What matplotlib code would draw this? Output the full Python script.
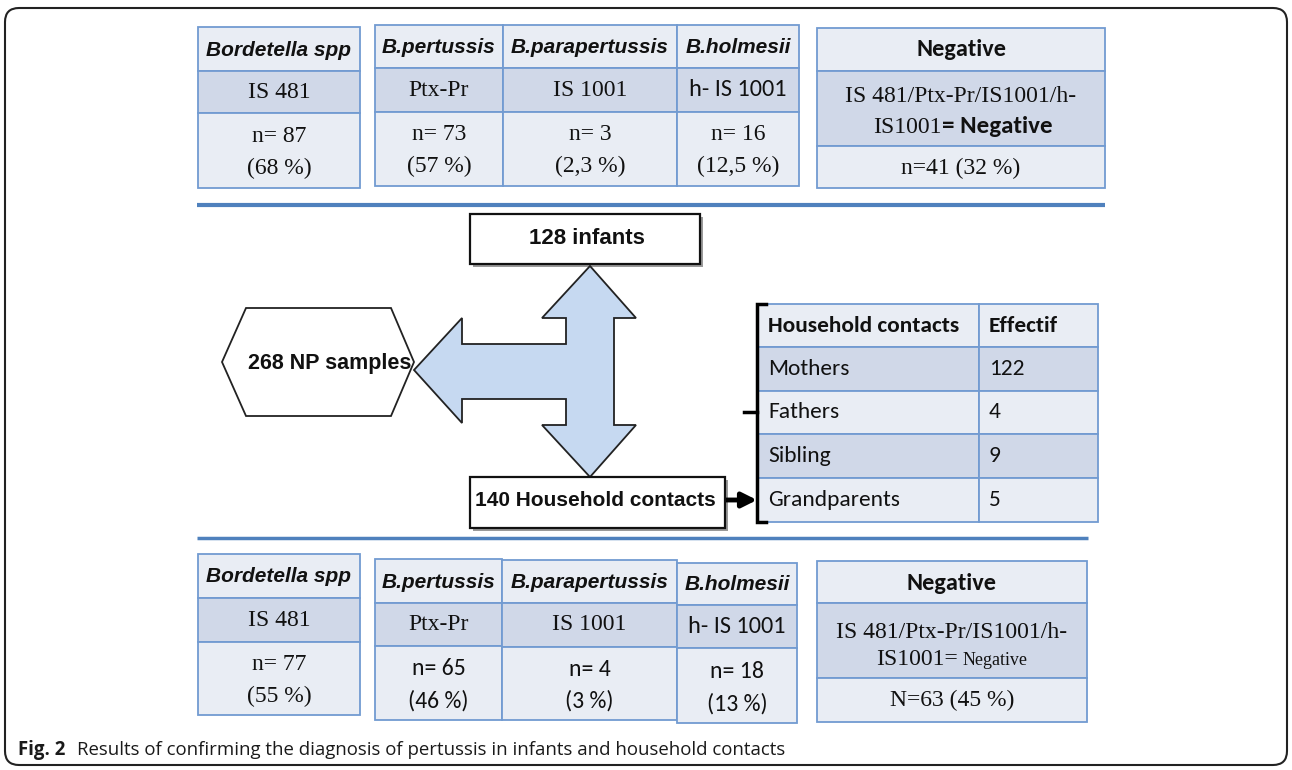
import matplotlib
matplotlib.use("Agg")
import matplotlib.pyplot as plt
from matplotlib.patches import Rectangle, Polygon, FancyBboxPatch
from matplotlib import font_manager


def pick(*names):
    # first installed family from the list
    for n in names:
        try:
            font_manager.findfont(n, fallback_to_default=False)
            return n
        except ValueError:
            continue
    return "DejaVu Sans"


NARROW = pick("Liberation Sans Narrow", "Liberation Sans")
ARIAL = pick("Liberation Sans", "DejaVu Sans")
SERIF = pick("Liberation Serif", "DejaVu Serif")
CALIBRI = pick("Carlito", "Lato", "Open Sans")
CAPTION = pick("Open Sans", "Noto Sans")

# ---- data ----
N_SAMPLES = 268
N_INFANTS = 128
N_CONTACTS = 140
species = ["Bordetella spp", "B.pertussis", "B.parapertussis", "B.holmesii"]
targets = ["IS 481", "Ptx-Pr", "IS 1001", "h- IS 1001"]
infant_n = [87, 73, 3, 16]
infant_pct = ["68", "57", "2,3", "12,5"]
contact_n = [77, 65, 4, 18]
contact_pct = ["55", "46", "3", "13"]
neg_targets = "IS 481/Ptx-Pr/IS1001/h-"
infant_neg = (41, "32")
contact_neg = (63, "45")
hh_groups = ["Mothers", "Fathers", "Sibling", "Grandparents"]
hh_effectif = [122, 4, 9, 5]

# ---- style ----
LIGHT = "#e9edf4"
SHADE = "#d0d8e8"
EDGE = "#729bd1"
INK = "#111111"
ARROW_FILL = "#c6d9f1"
RULE = "#4f81bd"
HEAD_SIZE = 15 if NARROW == "Liberation Sans" else 17

fig = plt.figure(figsize=(12.92, 7.70), dpi=100)
ax = fig.add_axes([0, 0, 1, 1])
ax.set_xlim(0, 1292)
ax.set_ylim(770, 0)
ax.axis("off")


def cell(x0, y0, x1, y1, fc):
    ax.add_patch(Rectangle((x0, y0), x1 - x0, y1 - y0, facecolor=fc,
                           edgecolor=EDGE, lw=1.3))


def txt(x, y, s, family, size, **kw):
    kw.setdefault("ha", "center")
    kw.setdefault("va", "center")
    ax.text(x, y, s, family=family, fontsize=size, color=INK, **kw)


# outer frame
ax.add_patch(FancyBboxPatch((5, 8), 1282, 757,
                            boxstyle="round,pad=0,rounding_size=14",
                            facecolor="none", edgecolor="#222222", lw=1.5))

# ---- species tables (top = infants, bottom = household contacts) ----
TOP_COLS = [(198, 360), (375, 503), (503, 677), (677, 799)]
TOP_ROWS = [(27, 71, 113, 188), (25, 68, 112, 186),
            (25, 68, 112, 186), (25, 68, 112, 186)]
BOT_COLS = [(198, 360), (375, 502), (502, 677), (677, 797)]
BOT_ROWS = [(554, 598, 642, 715), (559, 603, 646, 720),
            (560, 603, 647, 720), (563, 605, 648, 723)]


def species_block(cols, rows, ns, pcts, bottom):
    for i, (x0, x1) in enumerate(cols):
        r0, r1, r2, r3 = rows[i]
        cell(x0, r0, x1, r1, LIGHT)
        cell(x0, r1, x1, r2, SHADE)
        cell(x0, r2, x1, r3, LIGHT)
        xc = (x0 + x1) / 2
        txt(xc, (r0 + r1) / 2 + 1, species[i], NARROW, HEAD_SIZE,
            weight="bold", style="italic")
        if targets[i].startswith("h-"):
            txt(xc, (r1 + r2) / 2, targets[i], CALIBRI, 17.5)
        else:
            txt(xc, (r1 + r2) / 2, targets[i], SERIF, 17)
        vfont = CALIBRI if (bottom and i > 0) else SERIF
        h = r3 - r2
        txt(xc, r2 + 0.31 * h, f"n= {ns[i]}", vfont, 17)
        txt(xc, r2 + 0.74 * h, f"({pcts[i]} %)", vfont, 17)


species_block(TOP_COLS, TOP_ROWS, infant_n, infant_pct, False)
species_block(BOT_COLS, BOT_ROWS, contact_n, contact_pct, True)

# ---- negative tables ----
# top
cell(817, 28, 1105, 71, LIGHT)
cell(817, 71, 1105, 146, SHADE)
cell(817, 146, 1105, 188, LIGHT)
txt(961, 50, "Negative", CALIBRI, 17.5, weight="bold")
txt(961, 102, neg_targets, SERIF, 17, va="baseline")
txt(942, 133, "IS1001", SERIF, 17, ha="right", va="baseline")
txt(942, 133, "= Negative", CALIBRI, 18, ha="left", va="baseline", weight="bold")
txt(961, 168, f"n={infant_neg[0]} ({infant_neg[1]} %)", SERIF, 17)

# bottom
cell(817, 561, 1087, 603, LIGHT)
cell(817, 603, 1087, 678, SHADE)
cell(817, 678, 1087, 722, LIGHT)
txt(952, 583, "Negative", CALIBRI, 17.5, weight="bold")
txt(952, 638, neg_targets, SERIF, 17, va="baseline")
txt(958, 665, "IS1001=", SERIF, 17, ha="right", va="baseline")
txt(963, 665, "Negative", SERIF, 13, ha="left", va="baseline")
txt(952, 700, f"N={contact_neg[0]} ({contact_neg[1]} %)", SERIF, 17)

# ---- blue rules ----
ax.plot([197, 1105], [205, 205], color=RULE, lw=3, solid_capstyle="butt")
ax.plot([197, 1088], [538, 538], color=RULE, lw=2.5, solid_capstyle="butt")

# ---- central flow ----
hexagon = [(222, 362), (246, 308), (391, 308), (414, 362), (391, 416), (246, 416)]
ax.add_patch(Polygon(hexagon, closed=True, facecolor="white",
                     edgecolor="#222222", lw=1.3))
txt(330, 363, f"{N_SAMPLES} NP samples", ARIAL, 15.5, weight="bold")

arrow = [(414, 370), (462, 318), (462, 344), (566, 344), (566, 318),
         (542, 318), (590, 266), (636, 318), (614, 318), (614, 425),
         (636, 425), (590, 477), (542, 425), (566, 425), (566, 399),
         (462, 399), (462, 423)]
ax.add_patch(Polygon(arrow, closed=True, facecolor=ARROW_FILL,
                     edgecolor="#222222", lw=1.3, zorder=3))

# boxes with slight shadow
for (x0, y0, x1, y1) in [(470, 214, 700, 264), (470, 477, 725, 528)]:
    ax.add_patch(Rectangle((x0 + 3, y0 + 3), x1 - x0, y1 - y0,
                           facecolor="#9a9a9a", edgecolor="none", zorder=2))
    ax.add_patch(Rectangle((x0, y0), x1 - x0, y1 - y0, facecolor="white",
                           edgecolor="#111111", lw=1.6, zorder=4))
ax.text(587, 239, f"{N_INFANTS} infants", family=ARIAL, fontsize=16,
        weight="bold", ha="center", va="center", color=INK, zorder=5)
ax.text(595, 501, f"{N_CONTACTS} Household contacts", family=ARIAL,
        fontsize=15, weight="bold", ha="center", va="center", color=INK, zorder=5)

# small arrow into the bracket
ax.annotate("", xy=(757, 500), xytext=(726, 500),
            arrowprops=dict(arrowstyle="-|>", color="black", lw=3.5,
                            mutation_scale=22, shrinkA=0, shrinkB=0))

# bracket
ax.plot([766, 757, 757, 766], [304, 304, 522, 522], color="black", lw=2.5,
        solid_joinstyle="miter")
ax.plot([744, 757], [412, 412], color="black", lw=2.5)

# ---- household contacts table ----
HX = (758, 979, 1098)
HY = [304, 347, 391, 434, 478, 522]
rows = [("Household contacts", "Effectif")] + \
       [(g, str(v)) for g, v in zip(hh_groups, hh_effectif)]
for i, (a, b) in enumerate(rows):
    fc = SHADE if i in (1, 3) else LIGHT
    cell(HX[0], HY[i], HX[1], HY[i + 1], fc)
    cell(HX[1], HY[i], HX[2], HY[i + 1], fc)
    yc = (HY[i] + HY[i + 1]) / 2
    w = "bold" if i == 0 else "normal"
    txt(HX[0] + 10, yc, a, CALIBRI, 16.8, ha="left", weight=w)
    txt(HX[1] + 10, yc, b, CALIBRI, 16.8, ha="left", weight=w)

# ---- caption ----
ax.text(18, 755, "Fig. 2", family=CAPTION, fontsize=13.4, weight="bold",
        ha="left", va="baseline", color="#1a1a1a")
ax.text(77, 755, "Results of confirming the diagnosis of pertussis in infants "
        "and household contacts", family=CAPTION, fontsize=13.4,
        ha="left", va="baseline", color="#1a1a1a")

fig.savefig("out.png", dpi=100)
